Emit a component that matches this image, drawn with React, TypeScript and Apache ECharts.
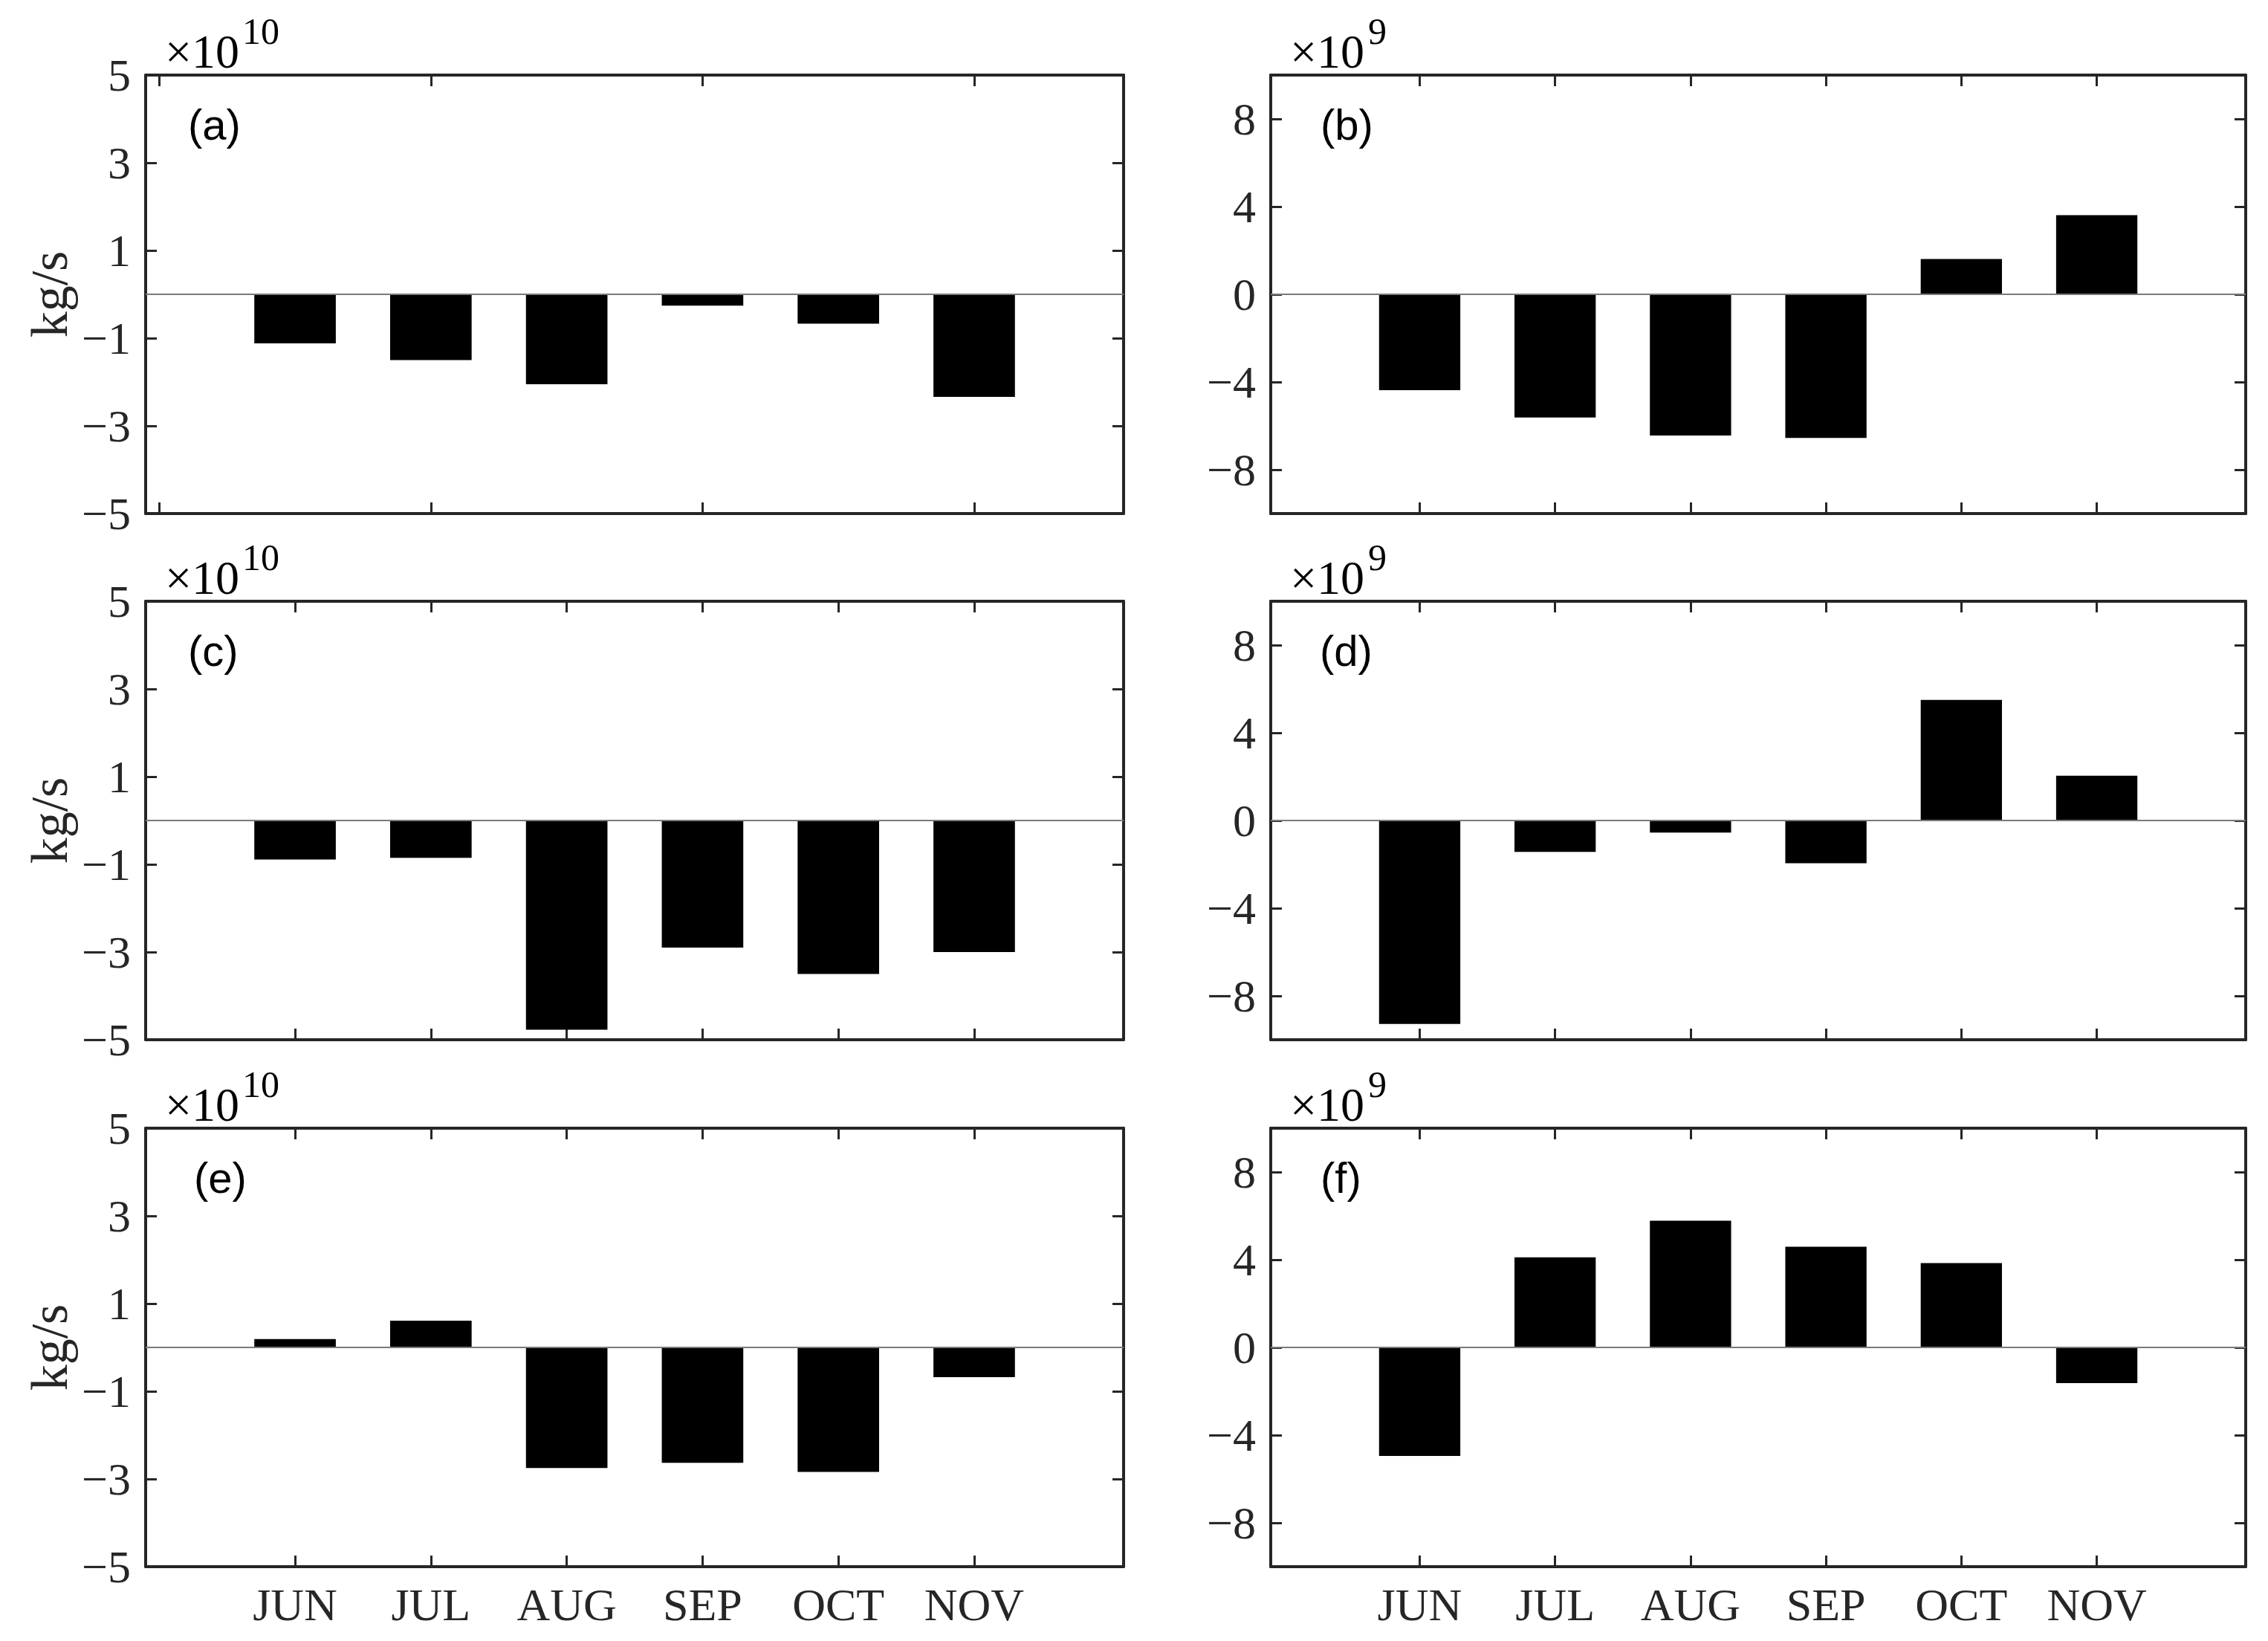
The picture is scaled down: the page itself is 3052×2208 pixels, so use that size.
import React, { useEffect, useRef } from "react";
import * as echarts from "echarts";

// ---------- data ----------
const MONTHS = ["JUN", "JUL", "AUG", "SEP", "OCT", "NOV"];
const MONTH_POS = [1, 2, 3, 4, 5, 6];

// left column values are in units of 1e10 kg/s, right column in 1e9 kg/s
const PANEL_A = [-1.12, -1.5, -2.05, -0.26, -0.67, -2.34];
const PANEL_B = [-4.37, -5.62, -6.44, -6.55, 1.61, 3.61];
const PANEL_C = [-0.89, -0.85, -4.77, -2.9, -3.5, -3.0];
const PANEL_D = [-9.28, -1.43, -0.55, -1.95, 5.5, 2.04];
const PANEL_E = [0.19, 0.61, -2.75, -2.63, -2.84, -0.68];
const PANEL_F = [-4.95, 4.11, 5.78, 4.59, 3.85, -1.63];

const LEFT_Y_TICKS = [-5, -3, -1, 1, 3, 5];
const RIGHT_Y_TICKS = [-8, -4, 0, 4, 8];
const X_TICKS_A = [0, 2, 4, 6];
const X_TICKS = [1, 2, 3, 4, 5, 6];
const LEFT_EXP = "10";
const RIGHT_EXP = "9";
const Y_UNIT = "kg/s";

// ---------- layout ----------
const W = 3052;
const H = 2208;
const COL_LEFT = [196, 1710];
const COL_WIDTH = [1316, 1312];
const ROW_TOP = [101, 809, 1518];
const ROW_HEIGHT = 590;
const AX = "#262626";
const SERIF = "'Liberation Serif', 'Times New Roman', serif";
const SANS = "'Liberation Sans', Arial, Helvetica, sans-serif";
const TICK_FS = 62;

const PANELS = [
  { letter: "(a)", values: PANEL_A, col: 0, row: 0, xTicks: X_TICKS_A, letterX: 253 },
  { letter: "(b)", values: PANEL_B, col: 1, row: 0, xTicks: X_TICKS, letterX: 1777 },
  { letter: "(c)", values: PANEL_C, col: 0, row: 1, xTicks: X_TICKS, letterX: 253 },
  { letter: "(d)", values: PANEL_D, col: 1, row: 1, xTicks: X_TICKS, letterX: 1776 },
  { letter: "(e)", values: PANEL_E, col: 0, row: 2, xTicks: X_TICKS, letterX: 261 },
  { letter: "(f)", values: PANEL_F, col: 1, row: 2, xTicks: X_TICKS, letterX: 1777 },
];

const fmt = (v: number) => (v < 0 ? "\u2212" + Math.abs(v) : String(v));

function axisBase() {
  return {
    axisLine: { show: true, onZero: false, lineStyle: { color: AX, width: 4 } },
    splitLine: { show: false },
  };
}

function buildOption() {
  const grid: any[] = [];
  const xAxis: any[] = [];
  const yAxis: any[] = [];
  const series: any[] = [];
  const graphic: any[] = [];

  PANELS.forEach((p, i) => {
    const left = COL_LEFT[p.col];
    const width = COL_WIDTH[p.col];
    const top = ROW_TOP[p.row];
    const yMin = p.col === 0 ? -5 : -10;
    const yMax = p.col === 0 ? 5 : 10;
    const yTicks = p.col === 0 ? LEFT_Y_TICKS : RIGHT_Y_TICKS;

    grid.push({ left, top, width, height: ROW_HEIGHT, containLabel: false, outerBoundsMode: "none" });

    const tickStyle = { show: true, inside: true, length: 15, lineStyle: { color: AX, width: 3 } };

    // bottom x axis
    xAxis.push({
      type: "value",
      gridIndex: i,
      position: "bottom",
      min: -0.1,
      max: 7.1,
      ...axisBase(),
      axisTick: { ...tickStyle, customValues: p.xTicks },
      axisLabel: {
        show: p.row === 2,
        customValues: MONTH_POS,
        formatter: (v: number) => MONTHS[Math.round(v) - 1] ?? "",
        fontFamily: SERIF,
        fontSize: TICK_FS,
        color: AX,
        margin: 20,
      },
    });
    // top x axis (box)
    xAxis.push({
      type: "value",
      gridIndex: i,
      position: "top",
      min: -0.1,
      max: 7.1,
      ...axisBase(),
      axisTick: { ...tickStyle, customValues: p.xTicks },
      axisLabel: { show: false },
    });
    // left y axis
    yAxis.push({
      type: "value",
      gridIndex: i,
      position: "left",
      min: yMin,
      max: yMax,
      ...axisBase(),
      axisTick: { ...tickStyle, customValues: yTicks },
      axisLabel: {
        show: true,
        customValues: yTicks,
        formatter: fmt,
        fontFamily: SERIF,
        fontSize: TICK_FS,
        color: AX,
        margin: 20,
      },
    });
    // right y axis (box)
    yAxis.push({
      type: "value",
      gridIndex: i,
      position: "right",
      min: yMin,
      max: yMax,
      ...axisBase(),
      axisTick: { ...tickStyle, customValues: yTicks },
      axisLabel: { show: false },
    });

    series.push({
      type: "bar",
      xAxisIndex: 2 * i,
      yAxisIndex: 2 * i,
      data: p.values.map((v, k) => [MONTH_POS[k], v]),
      barWidth: "60%",
      itemStyle: { color: "#000000" },
      silent: true,
      markLine: {
        silent: true,
        symbol: ["none", "none"],
        label: { show: false },
        lineStyle: { color: "#7a7a7a", width: 2, type: "solid" },
        data: [{ yAxis: 0 }],
      },
    });

    // panel letter
    graphic.push({
      type: "text",
      x: p.letterX,
      y: top + 66,
      style: {
        text: p.letter,
        fontFamily: SANS,
        fontSize: 58,
        fill: "#000",
        align: "left",
        verticalAlign: "middle",
      },
    });

    // exponent label
    const expX = p.col === 0 ? left + 26 : left + 26;
    const supX = p.col === 0 ? left + 130 : left + 131;
    graphic.push({
      type: "text",
      x: expX,
      y: top - 32,
      style: {
        text: "\u00d710",
        fontFamily: SERIF,
        fontSize: 64,
        fill: "#000",
        align: "left",
        verticalAlign: "middle",
      },
    });
    graphic.push({
      type: "text",
      x: supX,
      y: top - 59,
      style: {
        text: p.col === 0 ? LEFT_EXP : RIGHT_EXP,
        fontFamily: SERIF,
        fontSize: 50,
        fill: "#000",
        align: "left",
        verticalAlign: "middle",
      },
    });

    if (p.col === 0) {
      graphic.push({
        type: "text",
        x: 66,
        y: top + ROW_HEIGHT / 2,
        rotation: Math.PI / 2,
        style: {
          text: Y_UNIT,
          fontFamily: SERIF,
          fontSize: 70,
          fill: AX,
          align: "center",
          verticalAlign: "middle",
        },
      });
    }
  });

  return {
    animation: false,
    backgroundColor: "#ffffff",
    grid,
    xAxis,
    yAxis,
    series,
    graphic: { elements: graphic },
  };
}

export default function App() {
  const ref = useRef<HTMLDivElement>(null);
  useEffect(() => {
    document.body.style.margin = "0";
    const chart = echarts.init(ref.current as HTMLDivElement, null, {
      renderer: "svg",
      width: W,
      height: H,
    });
    chart.setOption(buildOption() as any);
    return () => chart.dispose();
  }, []);
  return <div ref={ref} style={{ width: W, height: H, background: "#fff" }} />;
}
